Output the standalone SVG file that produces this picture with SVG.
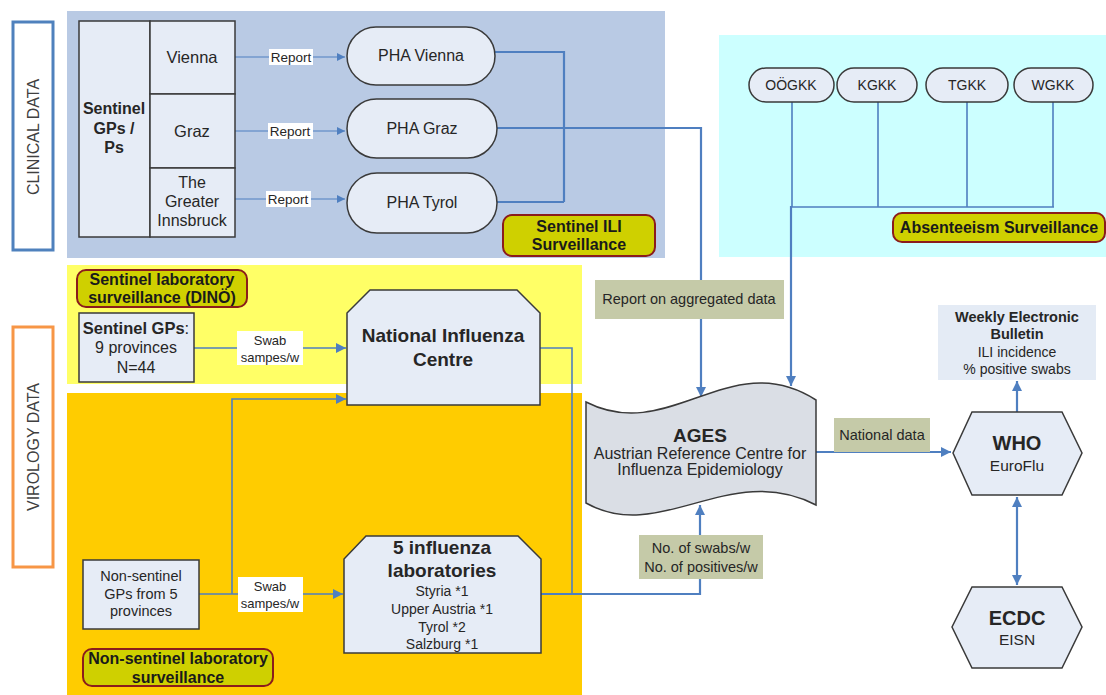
<svg xmlns="http://www.w3.org/2000/svg" width="1106" height="695" viewBox="0 0 1106 695">
<defs>
<style>
text{font-family:"Liberation Sans",Arial,sans-serif;fill:#262626;text-anchor:middle;dominant-baseline:central}
.b{font-weight:bold}
.node{fill:#e6ecf6;stroke:#3a3a3a;stroke-width:1.5}
.badge{fill:#cfd000;stroke:#8b1c1c;stroke-width:2}
.bt{font-weight:bold;font-size:16px;fill:#1a1a1a}
.lbl{fill:#c5caa8}
.wl{fill:#ffffff}
.c{fill:none;stroke:#4f7fc0;stroke-width:1.6}
.ct{fill:none;stroke:#4f7fc0;stroke-width:2.2}
.cn{fill:none;stroke:#4f7fc0;stroke-width:1.2}
</style>
<marker id="ah" viewBox="0 0 10 10" refX="10" refY="5" markerWidth="11" markerHeight="10" markerUnits="userSpaceOnUse" orient="auto-start-reverse"><path d="M0,0 L10,5 L0,10 z" fill="#4f7fc0"/></marker>
<marker id="as" viewBox="0 0 10 10" refX="10" refY="5" markerWidth="9" markerHeight="8" markerUnits="userSpaceOnUse" orient="auto"><path d="M0,0 L10,5 L0,10 z" fill="#4f7fc0"/></marker>
</defs>
<rect width="1106" height="695" fill="#ffffff"/>

<g id="panels">
<rect x="67" y="11" width="598" height="247" fill="#b9cae4"/>
<rect x="719" y="35" width="387" height="222" fill="#ccffff"/>
<rect x="67" y="265" width="515" height="119" fill="#ffff66"/>
<rect x="67" y="393" width="515" height="302" fill="#ffcc00"/>
</g>

<g id="side-clinical">
<rect x="13" y="22" width="40" height="228" fill="#ffffff" stroke="#4f81bd" stroke-width="3"/>
<text x="33" y="137" transform="rotate(-90 33 137)" font-size="16" style="fill:#404040">CLINICAL DATA</text>
</g>
<g id="side-virology">
<rect x="13" y="327" width="40" height="240" fill="#ffffff" stroke="#f79646" stroke-width="3"/>
<text x="33" y="447" transform="rotate(-90 33 447)" font-size="16" style="fill:#404040">VIROLOGY DATA</text>
</g>

<g id="connectors">
<path class="cn" d="M235,57 H345" marker-end="url(#as)"/>
<path class="cn" d="M235,131 H345" marker-end="url(#as)"/>
<path class="cn" d="M235,199 H345" marker-end="url(#as)"/>
<path class="ct" d="M495,52 H564 V202 M497,202 H564"/>
<path class="ct" d="M497,128 H701 V397" marker-end="url(#ah)"/>
<path class="c" d="M792,102 V207 M878,100 V207 M967,102 V207 M1053,102 V207 M790,207 H1054"/>
<path class="ct" d="M791,206 V386" stroke-width="2.8" marker-end="url(#ah)"/>
<path class="c" d="M194,348 H346" marker-end="url(#ah)"/>
<path class="c" d="M540,348 H572 V594"/>
<path class="c" d="M199,594 H343" marker-end="url(#ah)"/>
<path class="c" d="M232,594 V399 H346" marker-end="url(#ah)"/>
<path class="ct" d="M541,594 H700 V505" marker-end="url(#ah)"/>
<path class="ct" d="M816,452 H951" marker-end="url(#ah)"/>
<path class="ct" d="M1017,412 V381" marker-end="url(#ah)"/>
<path class="ct" d="M1017,497 V585" marker-start="url(#ah)" marker-end="url(#ah)"/>
<rect class="wl" x="269" y="49" width="44" height="16"/>
<text x="291" y="57" font-size="13.5">Report</text>
<rect class="wl" x="268" y="123" width="45" height="16"/>
<text x="290" y="131" font-size="13.5">Report</text>
<rect class="wl" x="266" y="191" width="45" height="16"/>
<text x="288" y="199" font-size="13.5">Report</text>
<rect class="wl" x="237" y="331" width="66" height="34"/>
<text x="270" y="340" font-size="13">Swab</text>
<text x="270" y="357" font-size="13">sampes/w</text>
<rect class="wl" x="238" y="577" width="65" height="35"/>
<text x="270" y="586" font-size="13">Swab</text>
<text x="270" y="603" font-size="13">sampes/w</text>
<rect class="lbl" x="595" y="280" width="189" height="39"/>
<text x="689" y="299" font-size="14.5">Report on aggregated data</text>
<rect class="lbl" x="834" y="418" width="96" height="34"/>
<text x="882" y="435" font-size="14.5">National data</text>
<rect class="lbl" x="639" y="535" width="124" height="44"/>
<text x="701" y="548" font-size="14.5">No. of swabs/w</text>
<text x="701" y="567" font-size="14.5">No. of positives/w</text>
</g>

<g id="sentinel-gps-ps">
<rect class="node" x="79" y="21" width="71" height="216"/>
<text class="b" x="114" y="108" font-size="16">Sentinel</text>
<text class="b" x="114" y="128" font-size="16">GPs /</text>
<text class="b" x="114" y="147" font-size="16">Ps</text>
</g>
<g id="vienna">
<rect class="node" x="150" y="21" width="85" height="73"/>
<text x="192" y="57" font-size="16.5">Vienna</text>
</g>
<g id="graz">
<rect class="node" x="150" y="94" width="85" height="74"/>
<text x="192" y="131" font-size="16.5">Graz</text>
</g>
<g id="innsbruck">
<rect class="node" x="150" y="168" width="85" height="69"/>
<text x="192" y="182" font-size="16">The</text>
<text x="192" y="201" font-size="16">Greater</text>
<text x="192" y="220" font-size="16">Innsbruck</text>
</g>

<g id="pha-vienna">
<rect class="node" x="347" y="27" width="148" height="58" rx="29"/>
<text x="421" y="55" font-size="16">PHA Vienna</text>
</g>
<g id="pha-graz">
<rect class="node" x="347" y="99" width="150" height="59" rx="29.5"/>
<text x="422" y="128" font-size="16">PHA Graz</text>
</g>
<g id="pha-tyrol">
<rect class="node" x="347" y="173" width="150" height="60" rx="30"/>
<text x="422" y="202" font-size="16">PHA Tyrol</text>
</g>
<g id="badge-ili">
<rect class="badge" x="503" y="215" width="152" height="41" rx="9"/>
<text class="bt" x="579" y="226">Sentinel ILI</text>
<text class="bt" x="579" y="244">Surveillance</text>
</g>

<g id="ooegkk">
<rect class="node" x="749" y="68" width="85" height="34" rx="17"/>
<text x="791" y="85" font-size="14">OÖGKK</text>
</g>
<g id="kgkk">
<rect class="node" x="837" y="68" width="80" height="34" rx="17"/>
<text x="877" y="85" font-size="14">KGKK</text>
</g>
<g id="tgkk">
<rect class="node" x="926" y="68" width="82" height="34" rx="17"/>
<text x="967" y="85" font-size="14">TGKK</text>
</g>
<g id="wgkk">
<rect class="node" x="1014" y="68" width="79" height="34" rx="17"/>
<text x="1053" y="85" font-size="14">WGKK</text>
</g>
<g id="badge-absenteeism">
<rect class="badge" x="893" y="213" width="212" height="29" rx="9"/>
<text class="bt" x="999" y="227">Absenteeism Surveillance</text>
</g>

<g id="badge-dino">
<rect class="badge" x="77" y="270" width="170" height="37" rx="9"/>
<text class="bt" x="162" y="279">Sentinel laboratory</text>
<text class="bt" x="162" y="297">surveillance (DINÖ)</text>
</g>
<g id="sentinel-gps">
<rect class="node" x="79" y="313" width="115" height="69"/>
<text x="136" y="328" font-size="16.5"><tspan class="b">Sentinel GPs</tspan>:</text>
<text x="136" y="347" font-size="16">9 provinces</text>
<text x="136" y="367" font-size="16">N=44</text>
</g>
<g id="nic">
<path class="node" d="M370,290 H517 L540,313 V405 H347 V313 Z"/>
<text class="b" x="443" y="335" font-size="19">National Influenza</text>
<text class="b" x="443" y="359" font-size="19">Centre</text>
</g>

<g id="non-sentinel-gps">
<rect class="node" x="83" y="560" width="116" height="69"/>
<text x="141" y="576" font-size="14.5">Non-sentinel</text>
<text x="141" y="594" font-size="14.5">GPs from 5</text>
<text x="141" y="611" font-size="14.5">provinces</text>
</g>
<g id="labs">
<path class="node" d="M366,536 H518 L541,559 V653 H344 V559 Z"/>
<text class="b" x="442" y="547" font-size="19">5 influenza</text>
<text class="b" x="442" y="570" font-size="19">laboratories</text>
<text x="442" y="591" font-size="14">Styria *1</text>
<text x="442" y="609" font-size="14">Upper Austria *1</text>
<text x="442" y="627" font-size="14">Tyrol *2</text>
<text x="442" y="644" font-size="14">Salzburg *1</text>
</g>
<g id="badge-nonsentinel">
<rect class="badge" x="83" y="649" width="190" height="37" rx="9"/>
<text class="bt" x="178" y="658">Non-sentinel laboratory</text>
<text class="bt" x="178" y="677">surveillance</text>
</g>

<g id="ages">
<path d="M586,402 C670,445 730,345 816,400 V505 C730,460 660,545 586,503 Z" fill="#dadee5" stroke="#3a3a3a" stroke-width="1.5"/>
<text class="b" x="700" y="435" font-size="19">AGES</text>
<text x="700" y="453" font-size="16">Austrian Reference Centre for</text>
<text x="700" y="469" font-size="16">Influenza Epidemiology</text>
</g>

<g id="bulletin">
<rect x="938" y="305" width="158" height="75" fill="#e4ebf5"/>
<text class="b" x="1017" y="317" font-size="14.5">Weekly Electronic</text>
<text class="b" x="1017" y="334" font-size="14.5">Bulletin</text>
<text x="1017" y="352" font-size="14">ILI incidence</text>
<text x="1017" y="369" font-size="14">% positive swabs</text>
</g>
<g id="who">
<path class="node" d="M972,412 H1062 L1082,453 L1062,495 H972 L953,453 Z"/>
<text class="b" x="1017" y="443" font-size="20">WHO</text>
<text x="1017" y="465" font-size="15.5">EuroFlu</text>
</g>
<g id="ecdc">
<path class="node" d="M972,587 H1062 L1082,627 L1062,668 H972 L952,627 Z"/>
<text class="b" x="1017" y="618" font-size="20">ECDC</text>
<text x="1017" y="639" font-size="15.5">EISN</text>
</g>
</svg>
